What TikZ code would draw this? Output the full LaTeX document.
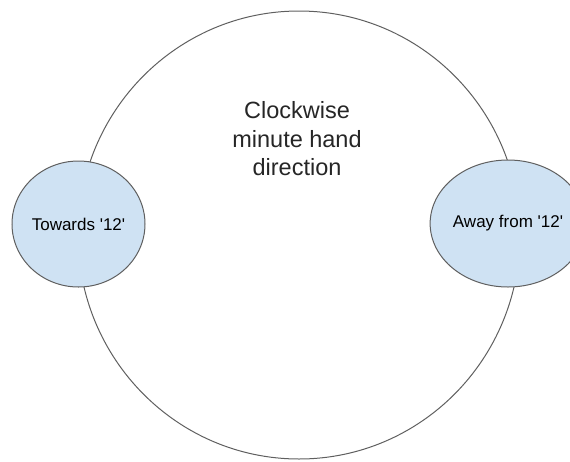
\documentclass[tikz,border=0pt]{standalone}
\usepackage{fontspec}
\setmainfont{Liberation Sans}
\usetikzlibrary{shapes.geometric}
\definecolor{bubbleblue}{HTML}{CFE2F3}
\definecolor{rimgray}{HTML}{5F5F5F}
\tikzset{
  bubble/.style={ellipse, draw=rimgray, fill=bubbleblue, line width=1pt,
    minimum width=133pt, minimum height=126pt, inner sep=0pt,
    font=\fontsize{17}{20}\selectfont},
}
\begin{document}
\begin{tikzpicture}[x=1pt,y=-1pt]
                \useasboundingbox (0,0) rectangle (570,461);
                \coordinate (C) at (299,235);
                \draw[rimgray, line width=1pt] (C) ellipse [x radius=221, y radius=224];
                \node[align=center, text=black!85, font=\fontsize{23.5}{28.5}\selectfont] (clockwise) at (297,139)
                    {Clockwise\\minute hand\\direction};
                \node[bubble] (towards) at (78.5,224) {Towards \textquotesingle12\textquotesingle};
                \node[bubble, minimum width=121pt, minimum height=127pt] (away) at (508,223.5) {Away from \textquotesingle12\textquotesingle};
            \end{tikzpicture}
\end{document}
